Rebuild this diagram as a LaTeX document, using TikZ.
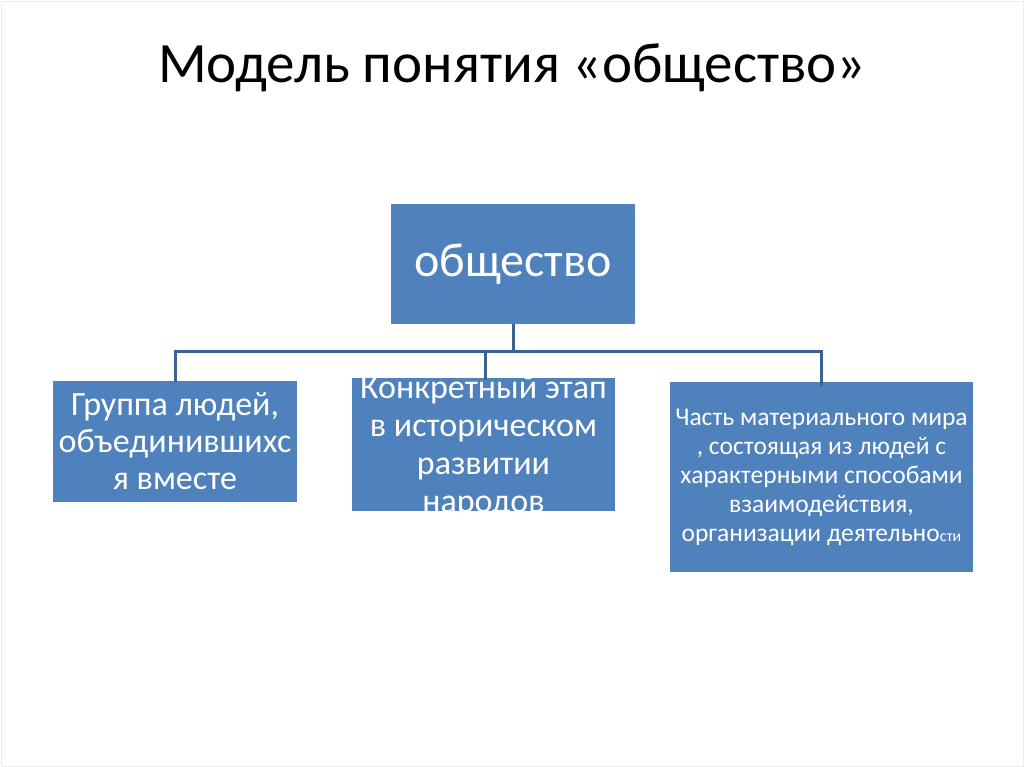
\documentclass[tikz,border=0pt]{standalone}
\usepackage{fontspec}
\setmainfont{Carlito}
\usepackage{tikz}
\usetikzlibrary{positioning}
\definecolor{boxblue}{HTML}{4F81BD}
\definecolor{linkblue}{HTML}{3A6394}

\begin{document}
\begin{tikzpicture}[x=1pt,y=-1pt]
\tikzset{blk/.style={fill=boxblue, inner sep=0pt, text=white, align=center}}
\tikzset{lnk/.style={draw=linkblue, line width=3pt}}

\useasboundingbox (0,0) rectangle (1024,767);
\draw[black!8] (1,1) rectangle (1023,766);

\node [font=\fontsize{57}{62}\selectfont] (title) at (512,68) {Модель понятия «общество»};

\begin{scope}[every node/.style={blk}]
\node [minimum width=244, minimum height=120, font=\fontsize{48}{54}\selectfont] (soc) at (513,264) {общество};
\node [minimum width=244, minimum height=121, font=\fontsize{34}{37}\selectfont] (grp) at (175,441) {Группа людей,\\ объединившихс\\ я вместе};
\node [minimum width=263, minimum height=133] (hist) at (483.5,444.5) {};
\node [minimum width=303, minimum height=190, font=\fontsize{25.5}{29}\selectfont] (mat) at (821.5,477) {Часть материального мира\\ , состоящая из людей с\\ характерными способами\\ взаимодействия,\\ организации деятельно{\fontsize{16}{18}\selectfont сти}};
\end{scope}
\node [blk, fill=none, font=\fontsize{34}{38}\selectfont] (histtxt) at ([yshift=-2]hist.center) {Конкретный этап\\ в историческом\\ развитии\\ народов};

\coordinate (fork) at (513,351);
\draw [lnk] (soc.south) -- (fork);
\draw [lnk] (fork) -| ([yshift=-2]grp.north);
\draw [lnk] (fork) -| ([xshift=1.5,yshift=-2]hist.north);
\draw [lnk] (fork) -| ([yshift=-4]mat.north);

\end{tikzpicture}
\end{document}
